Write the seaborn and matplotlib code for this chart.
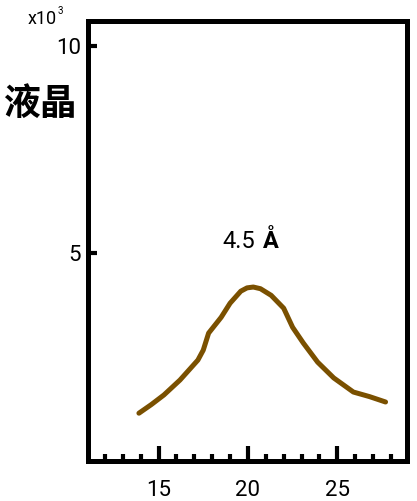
import numpy as np
import pandas as pd
import seaborn as sns
import matplotlib.pyplot as plt
from matplotlib.ticker import MultipleLocator

# scattering angle (deg) and intensity (x10^3)
angle = [13.9, 14.6, 15.3, 16.2, 17.2, 17.5, 17.8, 18.5, 19.0, 19.6, 19.95, 20.3,
         20.7, 21.3, 22.0, 22.5, 23.1, 23.9, 24.8, 25.9, 26.8, 27.7]
intensity = [1.15, 1.36, 1.59, 1.95, 2.43, 2.67, 3.08, 3.46, 3.80, 4.09, 4.17, 4.19,
             4.15, 3.99, 3.68, 3.22, 2.84, 2.38, 2.00, 1.66, 1.55, 1.42]
x_ticks = [15, 20, 25]
y_ticks = [5, 10]
peak_label = "4.5"
unit_label = "Å"
side_label = "液晶"

df = pd.DataFrame({'angle': angle, 'intensity': intensity})

sns.set_style("white")
plt.rcParams['font.family'] = ['Roboto', 'DejaVu Sans']
plt.rcParams['text.color'] = 'black'
plt.rcParams['xtick.color'] = 'black'
plt.rcParams['ytick.color'] = 'black'

fig = plt.figure(figsize=(4.17, 5.01), dpi=100)
ax = fig.add_axes([0.211, 0.080, 0.765, 0.878])

sns.lineplot(data=df, x='angle', y='intensity', ax=ax, color='#7a5000', linewidth=3.6)

ax.set_xlim(11.05, 28.9)
ax.set_ylim(0, 10.6)
ax.set_xticks(x_ticks)
ax.xaxis.set_minor_locator(MultipleLocator(1))
ax.set_yticks(y_ticks)
ax.set_xlabel('')
ax.set_ylabel('')

for s in ax.spines.values():
    s.set_linewidth(3.6)
    s.set_color('black')
    s.set_visible(True)

ax.tick_params(axis='x', which='major', direction='in', length=11, width=3, pad=14,
               labelsize=16, bottom=True, colors='black')
ax.tick_params(axis='x', which='minor', direction='in', length=5, width=3, bottom=True,
               colors='black')
ax.tick_params(axis='y', which='major', direction='in', length=6.5, width=3, pad=5,
               labelsize=16, left=True, colors='black')

ax.text(20.4, 5.12, peak_label, ha='right', va='baseline', fontsize=17, color='black')
ax.text(20.85, 5.12, unit_label, ha='left', va='baseline', fontsize=17,
        fontweight='bold', color='black')

fig.text(57 / 417, 1 - 24 / 501, "x10", ha='right', va='baseline', fontsize=13, color='black')
fig.text(58 / 417, 1 - 14 / 501, "3", ha='left', va='baseline', fontsize=7, color='black')

fig.text(77 / 417, 1 - 104 / 501, side_label, ha='right', va='center', fontsize=26.5,
         fontweight='bold', color='black', family=['Noto Sans CJK SC', 'DejaVu Sans'])

fig.savefig('out.png', dpi=100)
